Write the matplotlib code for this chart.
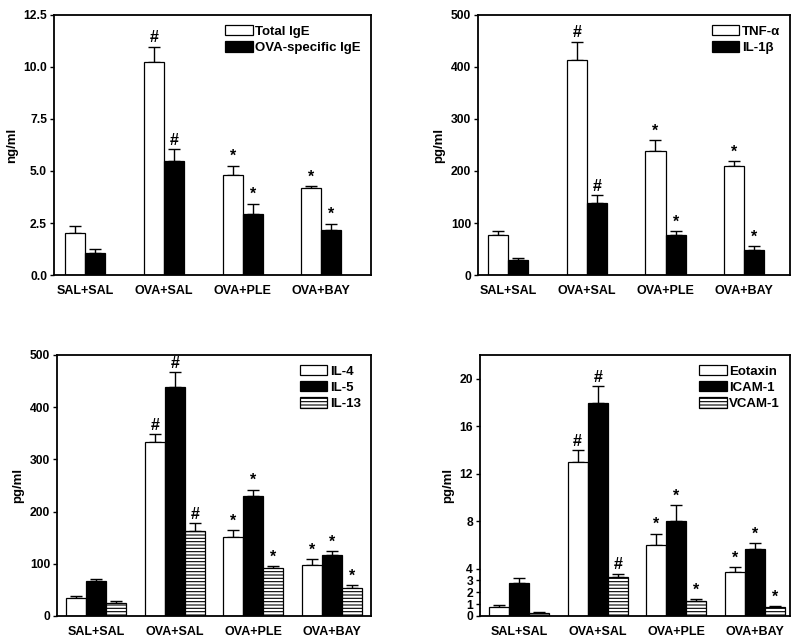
import numpy as np
import matplotlib
matplotlib.use("Agg")
import matplotlib.pyplot as plt

plt.rcParams['font.family'] = ['Liberation Sans', 'DejaVu Sans']
plt.rcParams['font.weight'] = 'bold'
plt.rcParams['hatch.linewidth'] = 0.8

groups = ['SAL+SAL', 'OVA+SAL', 'OVA+PLE', 'OVA+BAY']
marks = ['', '#', '*', '*']

# panel A: IgE (ng/ml)
ige_labels = ['Total IgE', 'OVA-specific IgE']
total_ige = [2.0, 10.22, 4.81, 4.17]
total_ige_err = [0.37, 0.76, 0.45, 0.12]
ova_ige = [1.04, 5.48, 2.95, 2.15]
ova_ige_err = [0.19, 0.58, 0.48, 0.32]

# panel B: TNF-a / IL-1b (pg/ml)
cyt_labels = ['TNF-\u03b1', 'IL-1\u03b2']
tnf = [77.6, 414, 239, 209]
tnf_err = [7, 35, 21, 10]
il1b = [29.5, 138, 76, 49]
il1b_err = [3.5, 16, 8, 7]

# panel C: Th2 cytokines (pg/ml)
th2_labels = ['IL-4', 'IL-5', 'IL-13']
il4 = [34.5, 333, 152, 98.5]
il4_err = [4.5, 15, 12, 10.5]
il5 = [67, 438, 229, 116]
il5_err = [4, 29, 13, 8]
il13 = [25.6, 162, 91, 53]
il13_err = [3.2, 16, 5, 6]

# panel D: adhesion molecules (pg/ml)
adh_labels = ['Eotaxin', 'ICAM-1', 'VCAM-1']
eotaxin = [0.79, 12.95, 5.95, 3.70]
eotaxin_err = [0.17, 1.01, 0.99, 0.39]
icam = [2.76, 17.94, 8.01, 5.67]
icam_err = [0.44, 1.44, 1.33, 0.45]
vcam = [0.28, 3.27, 1.30, 0.73]
vcam_err = [0.06, 0.31, 0.14, 0.12]

styles = [dict(facecolor='white', hatch=None),
          dict(facecolor='black', hatch=None),
          dict(facecolor='white', hatch='-----')]


def draw_panel(ax, series, errs, labels, xlim, ylim, yticks, yfmt, ylabel):
    n = len(series)
    width = 0.255
    x = np.arange(len(groups))
    for i in range(n):
        xi = x + (i - (n - 1) / 2) * width
        ax.bar(xi, series[i], width, edgecolor='black', linewidth=0.9,
               label=labels[i], zorder=2, **styles[i])
        ax.errorbar(xi, series[i], yerr=[np.zeros(len(groups)), errs[i]],
                    fmt='none', ecolor='black', elinewidth=1.0,
                    capsize=4, capthick=1.0, zorder=1)
        for j in range(len(groups)):
            if marks[j]:
                ax.annotate(marks[j], (xi[j], series[i][j] + errs[i][j]),
                            xytext=(0, 1), textcoords='offset points',
                            ha='center', va='bottom', fontsize=11.5,
                            fontweight='bold')
    ax.set_xlim(*xlim)
    ax.set_ylim(*ylim)
    ax.set_yticks(yticks)
    ax.set_yticklabels([yfmt.format(t) for t in yticks], fontsize=8.7,
                       fontweight='bold')
    ax.set_xticks(x)
    ax.set_xticklabels(groups, fontsize=9, fontweight='bold')
    ax.tick_params(axis='x', length=0, pad=7)
    ax.tick_params(axis='y', length=3, width=1, direction='out', pad=2)
    for sp in ax.spines.values():
        sp.set_linewidth(1.3)
    ax.set_ylabel(ylabel, fontsize=9.5, fontweight='bold')
    ax.legend(loc='upper right', frameon=False, fontsize=9.5,
              handlelength=2.1, handleheight=0.85, handletextpad=0.2,
              labelspacing=0.25, borderaxespad=0.35)


fig = plt.figure(figsize=(7.96, 6.43), dpi=100)

ax1 = fig.add_axes([0.0678, 0.5723, 0.398, 0.4044])
draw_panel(ax1, [total_ige, ova_ige], [total_ige_err, ova_ige_err],
           ige_labels, (-0.4, 3.63), (0, 12.5),
           [0, 2.5, 5.0, 7.5, 10.0, 12.5], '{:.1f}', 'ng/ml')

ax2 = fig.add_axes([0.6005, 0.5723, 0.392, 0.4044])
draw_panel(ax2, [tnf, il1b], [tnf_err, il1b_err], cyt_labels,
           (-0.38, 3.58), (0, 500), [0, 100, 200, 300, 400, 500],
           '{:.0f}', 'pg/ml')

ax3 = fig.add_axes([0.0716, 0.042, 0.3945, 0.406])
draw_panel(ax3, [il4, il5, il13], [il4_err, il5_err, il13_err], th2_labels,
           (-0.5, 3.5), (0, 500), [0, 100, 200, 300, 400, 500],
           '{:.0f}', 'pg/ml')

ax4 = fig.add_axes([0.603, 0.042, 0.3894, 0.406])
draw_panel(ax4, [eotaxin, icam, vcam], [eotaxin_err, icam_err, vcam_err],
           adh_labels, (-0.5, 3.45), (0, 22),
           [0, 1, 2, 3, 4, 8, 12, 16, 20], '{:.0f}', 'pg/ml')

fig.savefig('out.png', dpi=100)
